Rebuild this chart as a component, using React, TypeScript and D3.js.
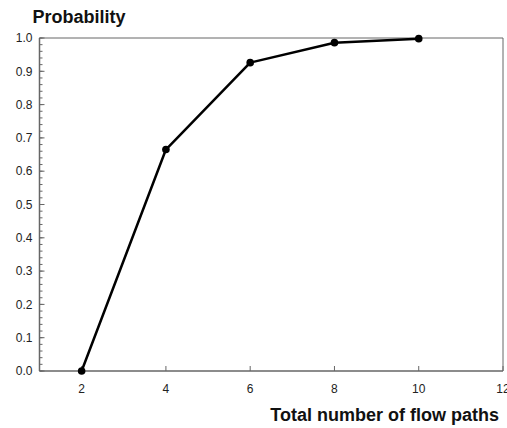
import React from "react";
import * as d3 from "d3";

const flowPaths = [2, 4, 6, 8, 10];
const probability = [0.0, 0.665, 0.926, 0.986, 0.998];
const xTicks = [2, 4, 6, 8, 10, 12];
const yTicks = [0, 0.1, 0.2, 0.3, 0.4, 0.5, 0.6, 0.7, 0.8, 0.9, 1.0];

export default function App() {
  const W = 507, H = 428;
  const left = 39.5, right = 503, top = 38, bottom = 371;
  const x = d3.scaleLinear().domain([1, 12]).range([left, right]);
  const y = d3.scaleLinear().domain([0, 1]).range([bottom, top]);
  const minor = d3.range(0, 1.0001, 0.02);
  const pts = flowPaths.map((v, i) => [v, probability[i]] as [number, number]);
  const line = d3.line<[number, number]>().x(d => x(d[0])).y(d => y(d[1]));
  const font = "Arial, 'Liberation Sans', sans-serif";
  return (
    <svg width={W} height={H} style={{ position: "absolute", left: 0, top: 0 }} fontFamily={font}>
      <rect width={W} height={H} fill="#fff" />
      <line x1={left} x2={right} y1={top} y2={top} stroke="#666" strokeWidth={1} />
      <line x1={right} x2={right} y1={top} y2={bottom} stroke="#666" strokeWidth={1} />
      <line x1={left} x2={left} y1={top} y2={bottom} stroke="#666" strokeWidth={1.5} />
      <line x1={left} x2={right} y1={bottom} y2={bottom} stroke="#666" strokeWidth={1.5} />
      {minor.map((v, i) => (
        <line key={"m" + i} x1={left} x2={left + 3} y1={y(v)} y2={y(v)} stroke="#666" strokeWidth={1} />
      ))}
      {yTicks.map((v, i) => (
        <g key={"y" + i}>
          <line x1={left} x2={left + 5} y1={y(v)} y2={y(v)} stroke="#666" strokeWidth={1} />
          <text x={32.5} y={y(v)} dy="0.35em" textAnchor="end" fontSize={12} fill="#222">
            {v.toFixed(1)}
          </text>
        </g>
      ))}
      {xTicks.map((v, i) => (
        <g key={"x" + i}>
          <line x1={x(v)} x2={x(v)} y1={bottom} y2={bottom - 5} stroke="#666" strokeWidth={1} />
          <text x={x(v)} y={393} textAnchor="middle" fontSize={12} fill="#222">
            {v}
          </text>
        </g>
      ))}
      <path d={line(pts) || ""} fill="none" stroke="#000" strokeWidth={2.5} strokeLinejoin="round" />
      {pts.map((p, i) => (
        <circle key={"c" + i} cx={x(p[0])} cy={y(p[1])} r={3.8} fill="#000" />
      ))}
      <text x={32.5} y={23} fontSize={18} fontWeight="bold" fill="#111">Probability</text>
      <text x={499} y={421} textAnchor="end" fontSize={18} fontWeight="bold" fill="#111">
        Total number of flow paths
      </text>
    </svg>
  );
}
